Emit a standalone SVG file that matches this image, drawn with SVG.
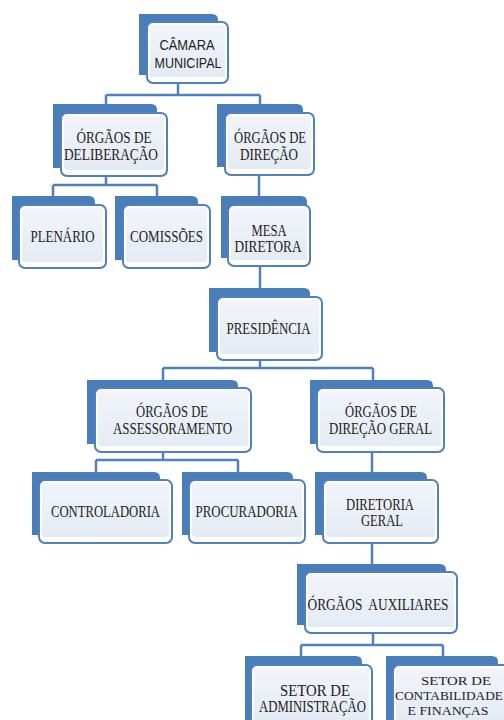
<svg xmlns="http://www.w3.org/2000/svg" width="504" height="720" viewBox="0 0 504 720">
<defs>
<style>
.back{fill:#4a7ebb;}
.front{fill:#ffffff;stroke:#4f81bd;stroke-width:2;}
.inner{fill:url(#shade);}
.t{font-family:"Liberation Serif","Times New Roman",serif;font-size:16px;fill:#222;text-anchor:middle;}
.sm{font-size:13.5px;}
.s{font-family:"Liberation Sans",Arial,sans-serif;font-size:14px;fill:#222;text-anchor:middle;}
.conn{fill:none;stroke:#4f81bd;stroke-width:2.5;}
</style>
<linearGradient id="shade" x1="0" y1="0" x2="0" y2="1">
<stop offset="0" stop-color="#f1f4fa"/>
<stop offset="1" stop-color="#e5ebf4"/>
</linearGradient>
</defs>
<rect width="504" height="720" fill="#ffffff"/>
<g id="connectors" class="conn">
<path d="M178,83 V95 M106,95 H260 M106,95 V105 M260,95 V105"/>
<path d="M106,176 V185 M53,185 H157 M53,185 V197 M157,185 V197"/>
<path d="M259,175 V197"/>
<path d="M260,266 V289"/>
<path d="M260,360 V368 M163,368 H373 M163,368 V381 M373,368 V381"/>
<path d="M163,452 V460 M96,460 H238 M96,460 V473 M238,460 V473"/>
<path d="M372,452 V473"/>
<path d="M372,543 V565"/>
<path d="M373,633 V645 M301,645 H443 M301,645 V657 M443,645 V657"/>
</g>
<g id="camara">
<path class="back" d="M139,14 H212 Q218,14 218,20 V75 H139 Z"/>
<rect class="front" x="147" y="22" width="81" height="61" rx="6"/>
<rect class="inner" x="150" y="25" width="75" height="52" rx="3"/>
<text class="s" x="187" y="50" textLength="55" lengthAdjust="spacingAndGlyphs">CÂMARA</text>
<text class="s" x="188" y="68" textLength="67" lengthAdjust="spacingAndGlyphs">MUNICIPAL</text>
</g>
<g id="deliberacao">
<path class="back" d="M53,104 H151 Q157,104 157,110 V168 H53 Z"/>
<rect class="front" x="61" y="113" width="106" height="63" rx="6"/>
<rect class="inner" x="64" y="116" width="100" height="54" rx="3"/>
<text class="t" x="114" y="143" textLength="75" lengthAdjust="spacingAndGlyphs">ÓRGÃOS DE</text>
<text class="t" x="111" y="160" textLength="94" lengthAdjust="spacingAndGlyphs">DELIBERAÇÃO</text>
</g>
<g id="direcao">
<path class="back" d="M217,104 H297 Q303,104 303,110 V167 H217 Z"/>
<rect class="front" x="225" y="113" width="89" height="62" rx="6"/>
<rect class="inner" x="228" y="116" width="83" height="53" rx="3"/>
<text class="t" x="270" y="143" textLength="72" lengthAdjust="spacingAndGlyphs">ÓRGÃOS DE</text>
<text class="t" x="269" y="160" textLength="58" lengthAdjust="spacingAndGlyphs">DIREÇÃO</text>
</g>
<g id="plenario">
<path class="back" d="M12,196 H89 Q95,196 95,202 V260 H12 Z"/>
<rect class="front" x="19" y="205" width="87" height="63" rx="6"/>
<rect class="inner" x="22" y="208" width="81" height="54" rx="3"/>
<text class="t" x="62.5" y="242" textLength="64" lengthAdjust="spacingAndGlyphs">PLENÁRIO</text>
</g>
<g id="comissoes">
<path class="back" d="M115,196 H192 Q198,196 198,202 V260 H115 Z"/>
<rect class="front" x="123" y="205" width="87" height="63" rx="6"/>
<rect class="inner" x="126" y="208" width="81" height="54" rx="3"/>
<text class="t" x="166.5" y="242" textLength="73" lengthAdjust="spacingAndGlyphs">COMISSÕES</text>
</g>
<g id="mesa">
<path class="back" d="M221,196 H301 Q307,196 307,202 V258 H221 Z"/>
<rect class="front" x="228" y="205" width="82" height="61" rx="6"/>
<rect class="inner" x="231" y="208" width="76" height="52" rx="3"/>
<text class="t" x="269" y="236" textLength="35" lengthAdjust="spacingAndGlyphs">MESA</text>
<text class="t" x="268" y="252" textLength="67" lengthAdjust="spacingAndGlyphs">DIRETORA</text>
</g>
<g id="presidencia">
<path class="back" d="M209,288 H304 Q310,288 310,294 V352 H209 Z"/>
<rect class="front" x="217" y="297" width="105" height="63" rx="6"/>
<rect class="inner" x="220" y="300" width="99" height="54" rx="3"/>
<text class="t" x="268.5" y="334" textLength="84" lengthAdjust="spacingAndGlyphs">PRESIDÊNCIA</text>
</g>
<g id="assessoramento">
<path class="back" d="M87,380 H232 Q238,380 238,386 V444 H87 Z"/>
<rect class="front" x="95" y="388" width="156" height="64" rx="6"/>
<rect class="inner" x="98" y="391" width="150" height="55" rx="3"/>
<text class="t" x="172" y="417" textLength="72" lengthAdjust="spacingAndGlyphs">ÓRGÃOS DE</text>
<text class="t" x="172.5" y="434" textLength="119" lengthAdjust="spacingAndGlyphs">ASSESSORAMENTO</text>
</g>
<g id="direcao-geral">
<path class="back" d="M310,380 H427 Q433,380 433,386 V444 H310 Z"/>
<rect class="front" x="317" y="388" width="127" height="64" rx="6"/>
<rect class="inner" x="320" y="391" width="121" height="55" rx="3"/>
<text class="t" x="381" y="417" textLength="72" lengthAdjust="spacingAndGlyphs">ÓRGÃOS DE</text>
<text class="t" x="380.5" y="434" textLength="103" lengthAdjust="spacingAndGlyphs">DIREÇÃO GERAL</text>
</g>
<g id="controladoria">
<path class="back" d="M32,472 H154 Q160,472 160,478 V535 H32 Z"/>
<rect class="front" x="39" y="480" width="133" height="63" rx="6"/>
<rect class="inner" x="42" y="483" width="127" height="54" rx="3"/>
<text class="t" x="105.5" y="517" textLength="109" lengthAdjust="spacingAndGlyphs">CONTROLADORIA</text>
</g>
<g id="procuradoria">
<path class="back" d="M182,472 H287 Q293,472 293,478 V535 H182 Z"/>
<rect class="front" x="189" y="480" width="116" height="63" rx="6"/>
<rect class="inner" x="192" y="483" width="110" height="54" rx="3"/>
<text class="t" x="246.5" y="517" textLength="102" lengthAdjust="spacingAndGlyphs">PROCURADORIA</text>
</g>
<g id="diretoria-geral">
<path class="back" d="M315,472 H421 Q427,472 427,478 V535 H315 Z"/>
<rect class="front" x="323" y="480" width="115" height="63" rx="6"/>
<rect class="inner" x="326" y="483" width="109" height="54" rx="3"/>
<text class="t" x="380" y="510" textLength="68" lengthAdjust="spacingAndGlyphs">DIRETORIA</text>
<text class="t" x="382" y="526" textLength="42" lengthAdjust="spacingAndGlyphs">GERAL</text>
</g>
<g id="auxiliares">
<path class="back" d="M297,564 H440 Q446,564 446,570 V625 H297 Z"/>
<rect class="front" x="305" y="572" width="152" height="61" rx="6"/>
<rect class="inner" x="308" y="575" width="146" height="52" rx="3"/>
<text class="t" x="378" y="610" textLength="141" lengthAdjust="spacingAndGlyphs" style="white-space:pre">ÓRGÃOS  AUXILIARES</text>
</g>
<g id="administracao">
<path class="back" d="M245,656 H356 Q362,656 362,662 V720 H245 Z"/>
<rect class="front" x="251" y="665" width="121" height="63" rx="6"/>
<rect class="inner" x="254" y="668" width="115" height="54" rx="3"/>
<text class="t" x="315" y="696" textLength="70" lengthAdjust="spacingAndGlyphs">SETOR DE</text>
<text class="t" x="312.5" y="712" textLength="107" lengthAdjust="spacingAndGlyphs">ADMINISTRAÇÃO</text>
</g>
<g id="contabilidade">
<path class="back" d="M386,656 H492 Q498,656 498,662 V720 H386 Z"/>
<rect class="front" x="393" y="665" width="118" height="63" rx="6"/>
<rect class="inner" x="396" y="668" width="112" height="54" rx="3"/>
<text class="t sm" x="456" y="685" textLength="70" lengthAdjust="spacingAndGlyphs">SETOR DE</text>
<text class="t sm" x="449" y="700" textLength="108" lengthAdjust="spacingAndGlyphs">CONTABILIDADE</text>
<text class="t sm" x="448" y="715" textLength="81" lengthAdjust="spacingAndGlyphs">E FINANÇAS</text>
</g>
</svg>
